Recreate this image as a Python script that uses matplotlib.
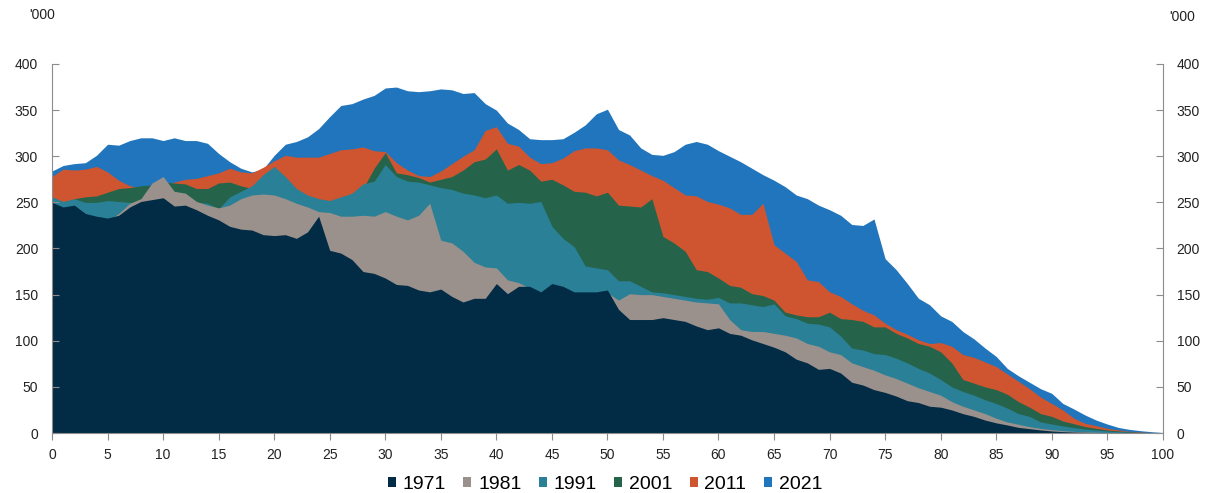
import numpy as np
import matplotlib
matplotlib.use("Agg")
import matplotlib.pyplot as plt
from matplotlib.patches import Patch

plt.rcParams['font.family'] = ['Liberation Sans', 'DejaVu Sans']

ages = list(range(0, 101))

pop_1971 = [250, 245, 247, 238, 235, 233, 236, 245, 251, 253,
            255, 246, 247, 242, 236, 231, 224, 221, 220, 215,
            214, 215, 211, 218, 235, 198, 195, 188, 175, 173,
            168, 161, 160, 155, 153, 156, 148, 142, 146, 146,
            162, 151, 159, 159, 153, 162, 159, 153, 153, 153,
            155, 134, 123, 123, 123, 125, 123, 121, 116, 112,
            114, 108, 106, 101, 97, 93, 88, 80, 76, 69,
            70, 65, 55, 52, 47, 44, 40, 35, 33, 29,
            28, 25, 21, 18, 14, 11, 8.7, 6.1, 4.7, 3.3,
            2.2, 1.5, 1.0, 0.7, 0.4, 0.3, 0.2, 0.1, 0.1, 0, 0]

pop_1981 = [240, 238, 236, 232, 230, 230, 238, 249, 254, 271,
            278, 262, 260, 251, 247, 244, 247, 254, 258, 259,
            258, 254, 249, 245, 240, 239, 235, 235, 236, 235,
            240, 235, 231, 236, 249, 209, 206, 197, 185, 180,
            179, 166, 163, 157, 152, 150, 150, 150, 150, 150,
            152, 144, 151, 150, 150, 148, 146, 144, 142, 141,
            140, 123, 112, 110, 110, 108, 106, 103, 97, 94,
            88, 85, 76, 72, 68, 63, 59, 54, 49, 45,
            41, 34, 29, 25, 21, 16, 12, 9.4, 6.9, 5,
            3.6, 2.5, 1.8, 1.2, 0.8, 0.5, 0.3, 0.2, 0.1, 0.1, 0]

pop_1991 = [256, 251, 254, 250, 250, 252, 251, 250, 248, 248,
            250, 250, 250, 250, 249, 243, 256, 262, 268, 280,
            289, 278, 265, 258, 254, 252, 256, 260, 270, 273,
            291, 278, 273, 272, 269, 266, 264, 260, 258, 255,
            258, 249, 250, 249, 251, 224, 211, 202, 181, 179,
            177, 165, 165, 159, 153, 152, 150, 148, 146, 145,
            147, 141, 141, 139, 137, 140, 127, 124, 119, 118,
            115, 105, 92, 90, 86, 85, 81, 76, 70, 65,
            58, 50, 45, 41, 36, 32, 27, 21, 18, 12,
            9.8, 7.6, 5.8, 4.3, 3.3, 2.2, 1.4, 0.8, 0.4, 0.2, 0.1]

pop_2001 = [250, 248, 254, 256, 257, 261, 265, 266, 268, 269,
            272, 271, 270, 265, 265, 271, 272, 268, 265, 262,
            258, 255, 252, 250, 248, 248, 252, 258, 265, 287,
            304, 282, 280, 277, 272, 275, 278, 285, 294, 297,
            308, 285, 291, 285, 273, 275, 269, 262, 261, 257,
            261, 247, 246, 245, 254, 213, 206, 197, 177, 175,
            168, 160, 158, 151, 149, 144, 131, 128, 126, 126,
            131, 124, 123, 121, 115, 115, 108, 103, 97, 94,
            88, 76, 58, 54, 50, 47, 42, 34, 28, 21,
            18, 13, 10, 7, 5, 3.3, 2.2, 1.4, 0.8, 0.4, 0.2]

pop_2011 = [278, 286, 285, 286, 289, 283, 274, 268, 266, 266,
            268, 272, 275, 276, 279, 282, 287, 283, 282, 288,
            295, 301, 299, 299, 299, 303, 307, 308, 310, 306,
            305, 293, 285, 279, 278, 284, 292, 300, 307, 328,
            332, 314, 311, 299, 292, 293, 298, 306, 309, 309,
            307, 296, 291, 285, 279, 274, 266, 258, 257, 251,
            248, 244, 237, 237, 249, 204, 195, 186, 166, 164,
            153, 148, 140, 133, 128, 119, 112, 107, 101, 97,
            98, 94, 85, 82, 77, 72, 64, 56, 48, 39,
            32, 25, 16, 10.5, 8, 5, 3.3, 1.8, 1.0, 0.5, 0.2]

pop_2021 = [284, 290, 292, 293, 301, 313, 312, 317, 320, 320,
            317, 320, 317, 317, 314, 303, 294, 287, 283, 286,
            301, 313, 316, 321, 330, 343, 355, 357, 362, 366,
            374, 375, 371, 370, 371, 373, 372, 368, 369, 357,
            350, 336, 329, 319, 318, 318, 319, 326, 334, 346,
            351, 329, 323, 309, 302, 301, 305, 313, 316, 313,
            306, 300, 294, 287, 280, 274, 267, 258, 254, 247,
            242, 236, 226, 225, 232, 189, 177, 162, 146, 139,
            127, 121, 110, 102, 92, 83, 70, 62, 55, 48,
            43, 32, 26, 19.5, 14, 9.7, 6, 3.9, 2.5, 1.4, 0.5]

years = ['1971', '1981', '1991', '2001', '2011', '2021']
colors = ['#022b46', '#9b918c', '#2a8097', '#25644a', '#cf5530', '#2175bc']

y_ticks = list(range(0, 401, 50))
x_ticks = list(range(0, 101, 5))


def style_axis(ax, side):
    for s in ['top', 'left', 'right', 'bottom']:
        ax.spines[s].set_visible(False)
    ax.spines[side].set_visible(True)
    ax.spines[side].set_color('#8c8c8c')
    ax.set_ylim(0, 400)
    ax.set_yticks(y_ticks)
    ax.tick_params(axis='y', direction='in', length=5, color='#8c8c8c',
                   labelsize=10, labelcolor='#222222', pad=10)


def main():
    series = [pop_1971, pop_1981, pop_1991, pop_2001, pop_2011, pop_2021]

    fig = plt.figure(figsize=(12.1, 4.93), dpi=100)
    ax = fig.add_axes([0.043, 0.1217, 0.918, 0.7485])

    # newest year at the back, 1971 in front
    for vals, col in reversed(list(zip(series, colors))):
        ax.fill_between(ages, 0, vals, color=col, linewidth=0)

    ax.set_xlim(0, 100)
    ax.set_xticks(x_ticks)
    style_axis(ax, 'left')
    ax.spines['bottom'].set_visible(True)
    ax.spines['bottom'].set_color('#8c8c8c')
    ax.tick_params(axis='x', direction='out', length=5, color='#8c8c8c',
                   labelsize=10, labelcolor='#222222', pad=6)

    ax2 = ax.twinx()
    style_axis(ax2, 'right')

    fig.text(0.024, 0.97, "'000", fontsize=10, color='#222222', va='center')
    fig.text(0.966, 0.966, "'000", fontsize=10, color='#222222', va='center')

    handles = [Patch(facecolor=c, edgecolor='none') for c in colors]
    fig.legend(handles, years, loc='center', bbox_to_anchor=(0.5, 0.018),
               ncol=6, frameon=False, fontsize=14, handlelength=0.4,
               handleheight=0.4, handletextpad=0.35, columnspacing=0.9)

    fig.savefig('out.png', dpi=100)
    plt.close(fig)


if __name__ == '__main__':
    main()
